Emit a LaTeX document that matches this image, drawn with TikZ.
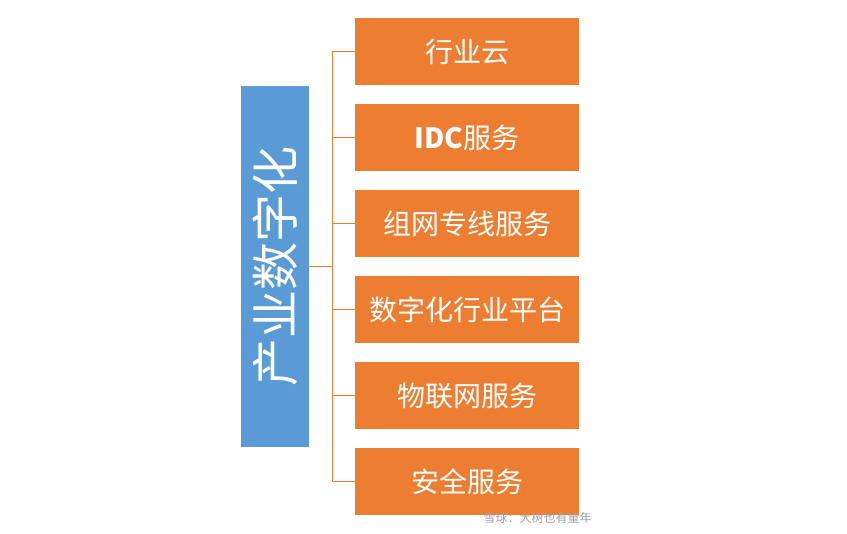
\documentclass[tikz,border=0pt]{standalone}
\usepackage{fontspec}
\setmainfont{Noto Sans CJK SC}
\begin{document}
\begin{tikzpicture}[x=1pt,y=-1pt,
  obox/.style={fill={rgb,255:red,237;green,125;blue,49}, draw=none, minimum width=224pt, minimum height=67pt, text=white, font=\fontsize{28}{32}\selectfont, inner sep=0pt},
  conn/.style={draw={rgb,255:red,237;green,125;blue,49}, line width=1pt}]
\useasboundingbox (0,0) rectangle (847,534);
\node[fill={rgb,255:red,91;green,155;blue,213}, minimum width=68pt, minimum height=361pt, inner sep=0pt] (main) at (275,266.5) {};
\node[rotate=90, text=white, font=\fontsize{48}{52}\selectfont] at (main.center) {产业数字化};
\foreach \n/\t/\y in {a/行业云/51.5, b/{\textbf{IDC}服务}/137.5, c/组网专线服务/223.5, d/数字化行业平台/309.5, e/物联网服务/395.5, f/安全服务/481.5}
  \node[obox] (\n) at (467,\y) {\t};
\coordinate (j) at (332,266.5);
\draw[conn] (main.east) -- (j);
\draw[conn] (332,51.5) -- (332,481.5);
\foreach \n in {a,b,c,d,e,f} \draw[conn] (\n.west) -- (\n.west -| j);
\node[text={rgb,255:red,160;green,160;blue,160}, font=\fontsize{12}{14}\selectfont, anchor=west] (wm) at (480,518) {雪球：大树也有童年};
\end{tikzpicture}
\end{document}
